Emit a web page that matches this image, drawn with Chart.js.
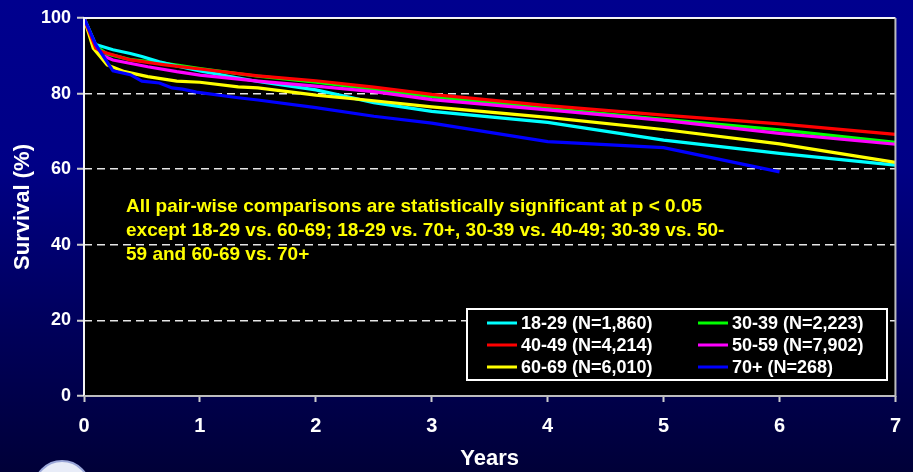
<!DOCTYPE html>
<html>
<head>
<meta charset="utf-8">
<script src="https://cdn.jsdelivr.net/npm/chart.js@4/dist/chart.umd.min.js"></script>
<style>
  html, body { margin: 0; padding: 0; }
  body {
    width: 913px; height: 472px; overflow: hidden; position: relative;
    background: linear-gradient(to bottom, #00008e 0%, #000086 35%, #00005a 70%, #000038 100%);
  }
  #wrap { position: absolute; left: 0; top: 0; width: 913px; height: 472px; }
  .seal {
    position: absolute; left: 33px; top: 460px; width: 54px; height: 54px;
    border-radius: 50%; background: #e8ecf8; border: 2px solid #9aa6d8;
  }
</style>
</head>
<body>
<div class="seal"></div>
<div id="wrap"><canvas id="chart" width="913" height="472"></canvas></div>
<script>
// 年份 (x) 与生存率 (%) —— 从原图读取
const groupLabels = ['18-29 (N=1,860)', '30-39 (N=2,223)', '40-49 (N=4,214)',
                     '50-59 (N=7,902)', '60-69 (N=6,010)', '70+ (N=268)'];
const groupColors = ['#00ffff', '#00ff00', '#ff0000', '#ff00ff', '#ffff00', '#0000ff'];

const years1829 = [0, 0.1, 0.25, 0.4, 0.5, 0.65, 0.8, 1.0, 1.25, 1.5, 2.0, 2.5, 3.0, 4.0, 5.0, 6.0, 7.0];
const surv1829  = [100, 93, 91.6, 90.6, 89.8, 88.4, 87.3, 86.0, 84.6, 83.2, 81.0, 77.6, 75.3, 72.4, 67.7, 64.2, 61.1];

const years3039 = [0, 0.1, 0.2, 0.4, 0.7, 1.0, 1.5, 2.0, 2.5, 3.0, 4.0, 5.0, 6.0, 7.0];
const surv3039  = [100, 92.5, 90.5, 89.0, 88.0, 86.6, 84.6, 83.0, 81.2, 79.2, 76.1, 73.2, 70.4, 67.1];

const years4049 = [0, 0.1, 0.15, 0.4, 0.7, 1.0, 1.5, 2.0, 2.5, 3.0, 4.0, 5.0, 6.0, 7.0];
const surv4049  = [100, 92, 91.1, 88.9, 87.6, 86.5, 84.7, 83.4, 81.7, 79.8, 76.8, 74.3, 72.0, 69.2];

const years5059 = [0, 0.1, 0.15, 0.25, 0.55, 0.8, 1.0, 1.5, 2.0, 2.5, 3.0, 4.0, 5.0, 6.0, 7.0];
const surv5059  = [100, 91.5, 90.2, 88.9, 87.1, 85.8, 84.9, 83.3, 82.0, 80.5, 78.4, 75.7, 72.9, 69.5, 66.6];

const years6069 = [0, 0.08, 0.2, 0.35, 0.55, 0.8, 1.0, 1.33, 1.5, 2.0, 2.5, 3.0, 4.0, 5.0, 6.0, 7.0];
const surv6069  = [100, 92, 87.6, 85.8, 84.5, 83.3, 83.0, 81.8, 81.5, 79.6, 78.1, 76.5, 73.7, 70.5, 66.7, 61.8];

const years70 = [0, 0.1, 0.25, 0.4, 0.5, 0.65, 0.76, 0.85, 0.97, 1.33, 1.5, 2.0, 2.5, 3.0, 4.0, 5.0, 6.0];
const surv70  = [100, 93, 86, 85, 83.3, 82.8, 81.5, 81.2, 80.4, 78.9, 78.3, 76.3, 74.0, 72.2, 67.3, 65.7, 59.3];

const allYears = [years1829, years3039, years4049, years5059, years6069, years70];
const allSurv  = [surv1829, surv3039, surv4049, surv5059, surv6069, surv70];
// 绘制顺序 (order 小的在上层)
const drawOrder = [4, 5, 1, 3, 2, 0];

const noteLines = [
  'All pair-wise comparisons are statistically significant at p < 0.05',
  'except 18-29 vs. 60-69; 18-29 vs. 70+, 30-39 vs. 40-49; 30-39 vs. 50-',
  '59 and 60-69 vs. 70+'
];

const xTitle = 'Years';
const yTitle = 'Survival (%)';

const datasets = groupLabels.map((label, i) => ({
  label,
  data: allYears[i].map((x, j) => ({ x, y: allSurv[i][j] })),
  borderColor: groupColors[i],
  backgroundColor: groupColors[i],
  borderWidth: 3.2,
  pointRadius: 0,
  tension: 0,
  order: drawOrder[i]
}));

// 绘图区背景与边框
const frame = {
  id: 'frame',
  beforeDraw(chart) {
    const { ctx, chartArea: a } = chart;
    ctx.save();
    ctx.fillStyle = '#000';
    ctx.fillRect(a.left, a.top, a.right - a.left, a.bottom - a.top);
    ctx.restore();
  },
  afterDatasetsDraw(chart) {
    const { ctx, chartArea: a } = chart;
    ctx.save();
    ctx.lineWidth = 2;
    ctx.strokeStyle = '#f4f4f4';
    ctx.beginPath();
    ctx.moveTo(a.left, a.bottom); ctx.lineTo(a.left, a.top); ctx.lineTo(a.right, a.top);
    ctx.stroke();
    ctx.strokeStyle = '#bdbdbd';
    ctx.beginPath();
    ctx.moveTo(a.right, a.top); ctx.lineTo(a.right, a.bottom); ctx.lineTo(a.left, a.bottom);
    ctx.stroke();
    ctx.restore();
  }
};

// 注释文字与图例
const notes = {
  id: 'notes',
  afterDraw(chart) {
    const { ctx } = chart;
    ctx.save();
    ctx.font = 'bold 19px "Liberation Sans", Arial, sans-serif';
    ctx.fillStyle = '#ffff00';
    ctx.textBaseline = 'middle';
    ctx.textAlign = 'left';
    noteLines.forEach((t, i) => ctx.fillText(t, 126, 207 + i * 23.7));

    // 图例框
    const bx = 467, by = 309, bw = 420, bh = 71;
    ctx.fillStyle = '#000';
    ctx.fillRect(bx, by, bw, bh);
    ctx.strokeStyle = '#fff';
    ctx.lineWidth = 2;
    ctx.strokeRect(bx, by, bw, bh);
    ctx.font = 'bold 18px "Liberation Sans", Arial, sans-serif';
    chart.data.datasets.forEach((ds, i) => {
      const col = i % 2, row = Math.floor(i / 2);
      const lx = col === 0 ? 487 : 698;
      const ly = 323 + row * 22;
      ctx.strokeStyle = ds.borderColor;
      ctx.lineWidth = 3;
      ctx.beginPath();
      ctx.moveTo(lx, ly); ctx.lineTo(lx + 30, ly);
      ctx.stroke();
      ctx.fillStyle = '#fff';
      ctx.fillText(ds.label, lx + 34, ly + 1);
    });
    ctx.restore();
  }
};

new Chart(document.getElementById('chart'), {
  type: 'line',
  data: { datasets },
  options: {
    responsive: false,
    animation: false,
    layout: { padding: { left: 0, right: 11, top: 18, bottom: 0 }, autoPadding: false },
    plugins: { legend: { display: false }, tooltip: { enabled: false } },
    scales: {
      x: {
        type: 'linear', min: 0, max: 7,
        afterFit(s) { s.height = 76; },
        ticks: { stepSize: 1, color: '#fff', padding: 12,
                 font: { family: '"Liberation Sans", Arial', size: 20, weight: 'bold' } },
        grid: { drawOnChartArea: false, tickLength: 6, tickColor: '#ccc', tickWidth: 2 },
        border: { display: false },
        title: { display: true, text: xTitle, color: '#fff', padding: { top: 0, bottom: 0 },
                 font: { family: '"Liberation Sans", Arial', size: 22, weight: 'bold' } }
      },
      y: {
        min: 0, max: 100,
        afterFit(s) { s.width = 84; },
        ticks: { stepSize: 20, color: '#fff', padding: 6,
                 font: { family: '"Liberation Sans", Arial', size: 18, weight: 'bold' } },
        grid: {
          color: ctx => (ctx.tick && (ctx.tick.value === 0 || ctx.tick.value === 100)) ? 'rgba(0,0,0,0)' : '#e6e6e6',
          lineWidth: 1.5, tickLength: 7, tickColor: '#ccc', tickWidth: 2
        },
        border: { display: false, dash: [8, 5] },
        title: { display: true, text: yTitle, color: '#fff', padding: { top: 10, bottom: 0 },
                 font: { family: '"Liberation Sans", Arial', size: 22, weight: 'bold' } }
      }
    }
  },
  plugins: [frame, notes]
});
</script>
</body>
</html>
